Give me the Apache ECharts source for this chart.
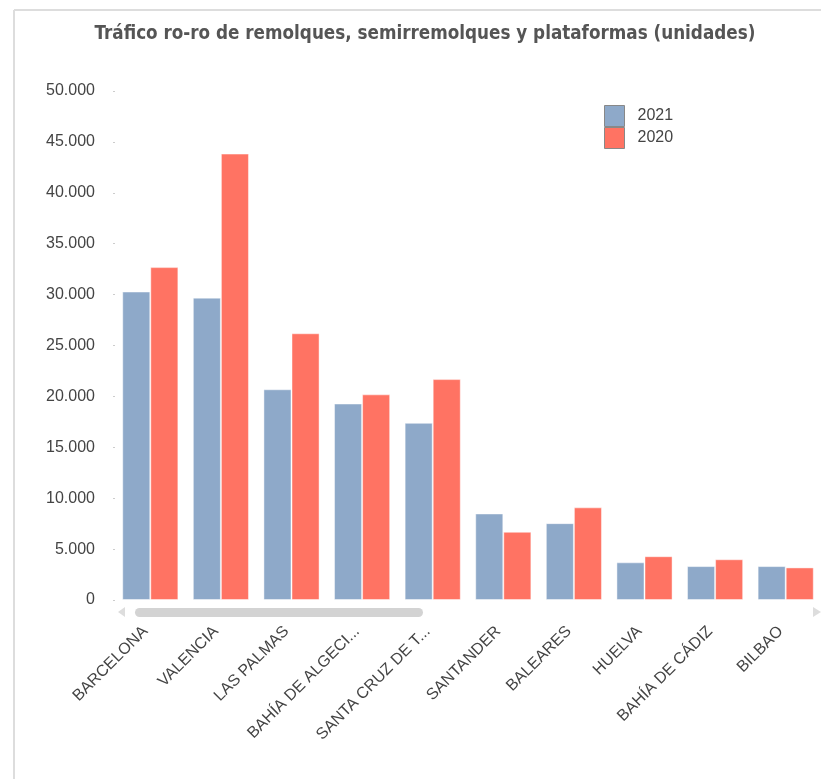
<!DOCTYPE html>
<html>
<head>
<meta charset="utf-8">
<script src="https://cdn.jsdelivr.net/npm/echarts@6/dist/echarts.min.js"></script>
<style>html,body{margin:0;padding:0;background:#fff;}#c{width:821px;height:779px;}</style>
</head>
<body>
<div id="c"></div>
<script>
const titleText = 'Tráfico ro-ro de remolques, semirremolques y plataformas (unidades)';
const categories = ['BARCELONA', 'VALENCIA', 'LAS PALMAS', 'BAHÍA DE ALGECIRAS', 'SANTA CRUZ DE TENERIFE', 'SANTANDER', 'BALEARES', 'HUELVA', 'BAHÍA DE CÁDIZ', 'BILBAO'];
const values2021 = [30300, 29700, 20700, 19300, 17400, 8500, 7550, 3700, 3330, 3330];
const values2020 = [32700, 43850, 26200, 20200, 21700, 6700, 9100, 4300, 4000, 3200];
const seriesNames = ['2021', '2020'];
const yTicks = [0, 5000, 10000, 15000, 20000, 25000, 30000, 35000, 40000, 45000, 50000];

const fmt = v => String(v).replace(/\B(?=(\d{3})+(?!\d))/g, '.');
const chart = echarts.init(document.getElementById('c'), null, {renderer: 'canvas'});
const font = '"Liberation Sans", Arial, sans-serif';

chart.setOption({
  animation: false,
  backgroundColor: '#fff',
  title: {
    text: titleText,
    left: 420, top: 20, textAlign: 'center',
    textStyle: {fontFamily: '"DejaVu Sans Condensed", "DejaVu Sans", sans-serif', fontSize: 18.7, fontWeight: 'bold', color: '#555'}
  },
  legend: {
    orient: 'vertical', left: 604, top: 105, itemGap: 0, padding: 0,
    itemWidth: 20, itemHeight: 21, icon: 'rect',
    itemStyle: {borderColor: '#888', borderWidth: 1},
    textStyle: {fontFamily: font, fontSize: 16, color: '#444', padding: [0, 0, 0, 8]},
    data: seriesNames
  },
  grid: {left: 115, right: 0, top: 91, bottom: 179, containLabel: false},
  xAxis: {
    type: 'category', data: categories,
    axisLine: {show: false}, axisTick: {show: false},
    axisLabel: {
      rotate: 45, interval: 0, margin: 24, fontFamily: font, fontSize: 16, color: '#444',
      padding: [0, 7, 0, 0],
      width: 162, overflow: 'truncate', ellipsis: '...'
    }
  },
  yAxis: {
    type: 'value', min: yTicks[0], max: yTicks[yTicks.length - 1], interval: 5000,
    axisLine: {show: false},
    axisTick: {show: true, length: 2, lineStyle: {color: '#ccc'}},
    splitLine: {show: false},
    axisLabel: {margin: 20, fontFamily: font, fontSize: 16, color: '#444', formatter: fmt}
  },
  series: [
    {name: seriesNames[0], type: 'bar', data: values2021, barGap: '0%', barCategoryGap: '20.5%',
     itemStyle: {color: '#8EA9C9', borderColor: 'rgba(255,255,255,0.45)', borderWidth: 1}},
    {name: seriesNames[1], type: 'bar', data: values2020,
     itemStyle: {color: '#FF7363', borderColor: 'rgba(255,255,255,0.45)', borderWidth: 1}}
  ],
  graphic: [
    {type: 'line', shape: {x1: 14, y1: 10, x2: 821, y2: 10}, style: {stroke: '#ddd', lineWidth: 2}, silent: true},
    {type: 'line', shape: {x1: 14, y1: 10, x2: 14, y2: 779}, style: {stroke: '#ddd', lineWidth: 2}, silent: true},
    {type: 'polygon', shape: {points: [[118, 612], [125, 607], [125, 617]]}, style: {fill: '#ddd'}, silent: true},
    {type: 'rect', shape: {x: 135, y: 608, width: 288, height: 9, r: 4.5}, style: {fill: '#d3d3d3'}, silent: true},
    {type: 'polygon', shape: {points: [[821, 612], [813, 607], [813, 617]]}, style: {fill: '#ddd'}, silent: true}
  ]
});
</script>
</body>
</html>
